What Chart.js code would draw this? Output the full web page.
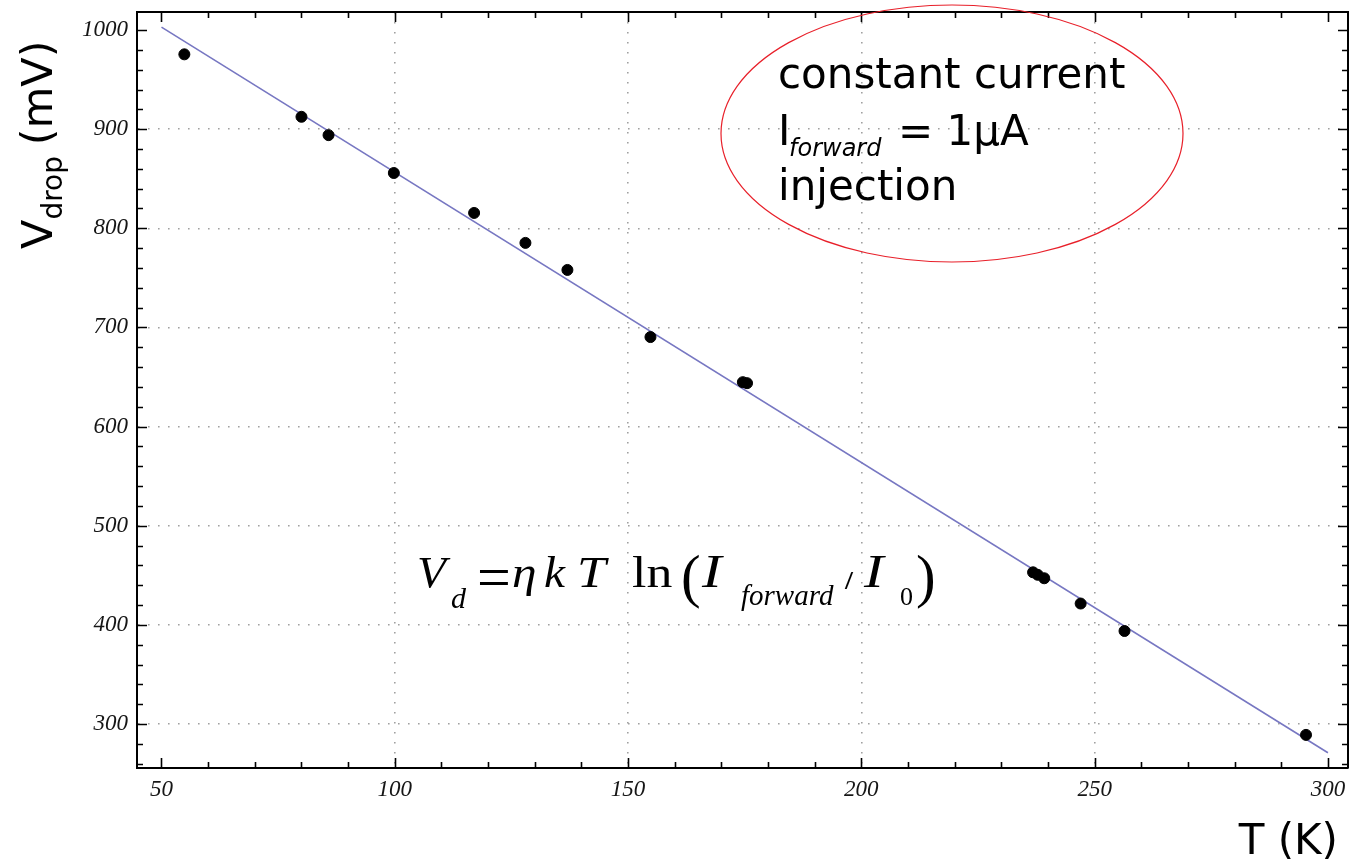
<!DOCTYPE html>
<html>
<head>
<meta charset="utf-8">
<script src="https://cdn.jsdelivr.net/npm/chart.js@4"></script>
<style>
  html, body { margin: 0; padding: 0; background: #fff; }
  #wrap { width: 1349px; height: 859px; }
</style>
</head>
<body>
<div id="wrap"><canvas id="c" width="1349" height="859"></canvas></div>
<script>
// ---- data ----
const tempK = [54.9, 80.0, 85.8, 99.8, 117.0, 128.0, 137.0, 154.8, 174.6, 175.5, 236.8, 237.8, 239.2, 247.0, 256.4, 295.3];
const vdrop = [975.5, 912.5, 894.0, 855.8, 815.5, 785.3, 758.0, 690.3, 644.8, 643.8, 453.0, 450.5, 447.0, 421.5, 393.8, 289.0];
const fitT  = [50, 300];
const fitV  = [1003, 271];

const xTickValues = [50, 100, 150, 200, 250, 300];
const xTickLabels = ['50', '100', '150', '200', '250', '300'];
const yTickValues = [300, 400, 500, 600, 700, 800, 900, 1000];
const yTickLabels = ['300', '400', '500', '600', '700', '800', '900', '1000'];
const xMinorStep = 10;
const yMinorStep = 20;
const xNoGrid = [50, 300];
const yNoGrid = [1000];

const xTitle = 'T (K)';
const yTitleMain = 'V';
const yTitleSub = 'drop';
const yTitleUnit = ' (mV)';
const noteLines = ['constant current', 'I', 'forward', '= 1\u03BCA', 'injection'];

const overlay = {
  id: 'overlay',
  afterDraw(chart) {
    const { ctx, chartArea: a, scales: { x, y } } = chart;
    ctx.save();
    // frame (top and right)
    ctx.strokeStyle = '#000';
    ctx.lineWidth = 2;
    ctx.beginPath();
    ctx.moveTo(a.left, a.top);
    ctx.lineTo(a.right, a.top);
    ctx.lineTo(a.right, a.bottom);
    ctx.stroke();

    // inward tick marks on all four sides
    ctx.lineWidth = 1.6;
    for (let v = Math.ceil(x.min / xMinorStep) * xMinorStep; v <= x.max; v += xMinorStep) {
      const px = Math.round(x.getPixelForValue(v)) + 0.5;
      const L = xTickValues.includes(v) ? 10 : 6;
      ctx.beginPath();
      ctx.moveTo(px, a.bottom); ctx.lineTo(px, a.bottom - L);
      ctx.moveTo(px, a.top); ctx.lineTo(px, a.top + L);
      ctx.stroke();
    }
    for (let v = Math.ceil(y.min / yMinorStep) * yMinorStep; v <= y.max; v += yMinorStep) {
      const py = Math.round(y.getPixelForValue(v)) + 0.5;
      const L = yTickValues.includes(v) ? 10 : 6;
      ctx.beginPath();
      ctx.moveTo(a.left, py); ctx.lineTo(a.left + L, py);
      ctx.moveTo(a.right, py); ctx.lineTo(a.right - L, py);
      ctx.stroke();
    }

    ctx.fillStyle = '#000';
    ctx.textBaseline = 'alphabetic';
    ctx.textAlign = 'left';
    const sans = '"DejaVu Sans", Verdana, sans-serif';
    const serif = '"Liberation Serif", "Times New Roman", serif';

    // x axis title
    ctx.font = '42px ' + sans;
    ctx.textAlign = 'right';
    ctx.fillText(xTitle, 1338, 854);
    ctx.textAlign = 'left';

    // y axis title (rotated)
    ctx.save();
    ctx.translate(52, 249);
    ctx.rotate(-Math.PI / 2);
    ctx.font = '43px ' + sans;
    ctx.fillText(yTitleMain, 0, 0);
    let w = ctx.measureText(yTitleMain).width;
    ctx.font = '28px ' + sans;
    ctx.fillText(yTitleSub, w, 10);
    w += ctx.measureText(yTitleSub).width;
    ctx.font = '43px ' + sans;
    ctx.fillText(yTitleUnit, w - 3, 0);
    ctx.restore();

    // annotation ellipse and note
    ctx.strokeStyle = '#e8202a';
    ctx.lineWidth = 1.2;
    ctx.beginPath();
    ctx.ellipse(952, 133.5, 231, 128.5, 0, 0, Math.PI * 2);
    ctx.stroke();

    ctx.font = '42px ' + sans;
    ctx.fillText(noteLines[0], 778, 88);
    ctx.fillText(noteLines[1], 778, 145);
    ctx.font = 'italic 24px ' + sans;
    ctx.fillText(noteLines[2], 789, 156);
    ctx.font = '42px ' + sans;
    ctx.fillText(noteLines[3], 898, 145);
    ctx.fillText(noteLines[4], 778, 200);

    // formula: text, x, baseline, font, horizontal scale
    const parts = [
      ['V', 417, 587, 'italic 45px', 1.05],
      ['d', 451, 608, 'italic 30px', 1],
      ['=', 477, 597, '60px', 1],
      ['\u03B7', 512, 587, 'italic 45px', 1.1],
      ['k', 544, 587, 'italic 45px', 1.05],
      ['T', 577, 587, 'italic 45px', 1.15],
      ['ln', 632, 587, '45px', 1.15],
      ['(', 681, 596, '59px', 1],
      ['I', 702, 587, 'italic 47px', 1.25],
      ['forward', 741, 605, 'italic 29px', 1],
      ['/', 845, 589, 'bold 26px', 1.1],
      ['I', 864, 587, 'italic 47px', 1.25],
      ['0', 900, 605, '26px', 1],
      [')', 916, 596, '59px', 1]
    ];
    for (const [s, px, py, f, sx] of parts) {
      ctx.save();
      ctx.font = f + ' ' + serif;
      ctx.translate(px, py);
      ctx.scale(sx, 1);
      ctx.fillText(s, 0, 0);
      ctx.restore();
    }
    ctx.restore();
  }
};

new Chart(document.getElementById('c'), {
  data: {
    datasets: [
      {
        type: 'scatter',
        data: tempK.map((t, i) => ({ x: t, y: vdrop[i] })),
        backgroundColor: '#000',
        borderColor: '#000',
        pointRadius: 5.5,
        pointHoverRadius: 5.5
      },
      {
        type: 'line',
        data: fitT.map((t, i) => ({ x: t, y: fitV[i] })),
        borderColor: '#7777c2',
        borderWidth: 1.6,
        pointRadius: 0,
        fill: false
      }
    ]
  },
  options: {
    responsive: false,
    animation: false,
    events: [],
    layout: { autoPadding: false, padding: { left: 0, top: 12, right: 1, bottom: 0 } },
    plugins: { legend: { display: false }, tooltip: { enabled: false } },
    scales: {
      x: {
        type: 'linear',
        min: 44.75,
        max: 304.3,
        afterBuildTicks: s => { s.ticks = xTickValues.map(v => ({ value: v })); },
        afterFit: s => { s.height = 91; s.paddingLeft = 0; s.paddingRight = 0; },
        ticks: {
          autoSkip: false,
          maxRotation: 0,
          padding: 8,
          color: '#161616',
          font: { family: '"Liberation Serif", "Times New Roman", serif', size: 23, style: 'italic' },
          callback: (v) => xTickLabels[xTickValues.indexOf(v)] ?? ''
        },
        grid: {
          drawTicks: false,
          lineWidth: 1.6,
          color: c => (c.tick && xNoGrid.includes(c.tick.value)) ? 'rgba(0,0,0,0)' : '#a0a0a0'
        },
        border: { display: true, color: '#000', width: 2, dash: [1.6, 8.4] }
      },
      y: {
        type: 'linear',
        min: 255.6,
        max: 1018.2,
        afterBuildTicks: s => { s.ticks = yTickValues.map(v => ({ value: v })); },
        afterFit: s => { s.width = 137; s.paddingTop = 0; s.paddingBottom = 0; },
        ticks: {
          autoSkip: false,
          padding: 9,
          color: '#161616',
          font: { family: '"Liberation Serif", "Times New Roman", serif', size: 23, style: 'italic' },
          callback: (v) => yTickLabels[yTickValues.indexOf(v)] ?? ''
        },
        grid: {
          drawTicks: false,
          lineWidth: 1.6,
          color: c => (c.tick && yNoGrid.includes(c.tick.value)) ? 'rgba(0,0,0,0)' : '#a0a0a0'
        },
        border: { display: true, color: '#000', width: 2, dash: [1.6, 8.4] }
      }
    }
  },
  plugins: [overlay]
});
</script>
</body>
</html>
